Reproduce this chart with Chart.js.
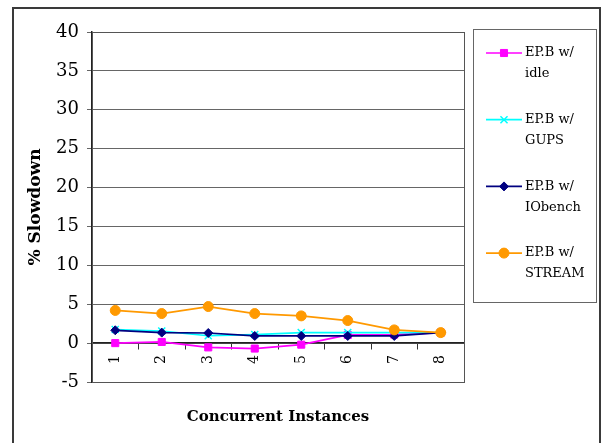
<!DOCTYPE html>
<html>
<head>
<meta charset="utf-8">
<script src="https://cdn.jsdelivr.net/npm/chart.js@4.4.1/dist/chart.umd.min.js"></script>
<style>
  html, body { margin: 0; padding: 0; background: #fff; }
  canvas { display: block; }
</style>
</head>
<body>
<canvas id="chart" width="604" height="443"></canvas>
<script>
// Concurrent instances on the x axis
const instances = ['1', '2', '3', '4', '5', '6', '7', '8'];

// % slowdown of EP.B when co-scheduled with each workload
const idleSlowdown    = [0.0, 0.15, -0.55, -0.7, -0.2, 1.05, 1.1, 1.35];
const gupsSlowdown    = [1.75, 1.55, 0.95, 1.1, 1.35, 1.35, 1.35, 1.35];
const iobenchSlowdown = [1.65, 1.35, 1.3, 0.92, 0.92, 0.92, 0.92, 1.35];
const streamSlowdown  = [4.2, 3.8, 4.7, 3.8, 3.5, 2.9, 1.7, 1.35];

// Legend text, two lines per series
const seriesLabels = [
  ['EP.B w/', 'idle'],
  ['EP.B w/', 'GUPS'],
  ['EP.B w/', 'IObench'],
  ['EP.B w/', 'STREAM']
];

// Y axis range
const yMin = -5;
const yMax = 40;
const yStep = 5;

const seriesData = [idleSlowdown, gupsSlowdown, iobenchSlowdown, streamSlowdown];
const seriesColors = ['#FF00FF', '#00FFFF', '#000080', '#FF9900'];
const seriesMarkers = ['rect', 'crossRot', 'rectRot', 'circle'];
const seriesRadius = [5, 5, 4.5, 5];

const SERIF = "'DejaVu Serif', 'Liberation Serif', serif";

const datasets = seriesData.map((values, i) => ({
  label: seriesLabels[i].join(' '),
  data: values,
  borderColor: seriesColors[i],
  backgroundColor: seriesColors[i],
  pointBackgroundColor: seriesColors[i],
  pointBorderColor: seriesColors[i],
  pointStyle: seriesMarkers[i],
  pointRadius: seriesRadius[i],
  pointBorderWidth: i === 1 ? 1.5 : 1,
  borderWidth: 1.7,
  tension: 0,
  fill: false,
  order: seriesData.length - i
}));

function markerAt(ctx, ds, x, y) {
  ctx.save();
  ctx.fillStyle = ds.pointBackgroundColor;
  ctx.strokeStyle = ds.pointBorderColor;
  ctx.lineWidth = ds.pointBorderWidth;
  if (Chart.helpers && Chart.helpers.drawPoint) {
    Chart.helpers.drawPoint(ctx, {
      pointStyle: ds.pointStyle, radius: ds.pointRadius,
      borderWidth: ds.pointBorderWidth, rotation: 0
    }, x, y);
  } else {
    ctx.beginPath();
    ctx.arc(x, y, ds.pointRadius, 0, Math.PI * 2);
    ctx.fill();
  }
  ctx.restore();
}

// Draws the plot frame, the outer border and the boxed legend
const framePlugin = {
  id: 'frameAndLegend',
  afterDraw(chart) {
    const ctx = chart.ctx;
    const a = chart.chartArea;
    ctx.save();

    // plot frame
    ctx.strokeStyle = '#555';
    ctx.lineWidth = 1;
    ctx.strokeRect(Math.round(a.left) + 0.5, Math.round(a.top) + 0.5,
                   Math.round(a.right - a.left), Math.round(a.bottom - a.top));

    // outer border
    ctx.strokeStyle = '#3a3a3a';
    ctx.lineWidth = 2;
    ctx.beginPath();
    ctx.moveTo(13, 460);
    ctx.lineTo(13, 8);
    ctx.lineTo(600, 8);
    ctx.lineTo(600, 460);
    ctx.stroke();

    // legend box
    ctx.strokeStyle = '#666';
    ctx.lineWidth = 1;
    ctx.strokeRect(473.5, 29.5, 123, 273);

    const ds = chart.data.datasets;
    ctx.font = "13px " + SERIF;
    ctx.textAlign = 'left';
    ctx.textBaseline = 'middle';
    seriesLabels.forEach((lines, i) => {
      const y = 53 + i * 66.7;
      ctx.strokeStyle = ds[i].borderColor;
      ctx.lineWidth = ds[i].borderWidth;
      ctx.beginPath();
      ctx.moveTo(486, y);
      ctx.lineTo(522, y);
      ctx.stroke();
      markerAt(ctx, ds[i], 504, y);
      ctx.fillStyle = '#000';
      ctx.fillText(lines[0], 525, y);
      ctx.fillText(lines[1], 525, y + 21);
    });
    ctx.restore();
  }
};

new Chart(document.getElementById('chart'), {
  type: 'line',
  data: { labels: instances, datasets },
  plugins: [framePlugin],
  options: {
    responsive: false,
    animation: false,
    devicePixelRatio: 1,
    layout: { padding: { left: 0, top: 32, right: 140, bottom: 13 } },
    plugins: {
      legend: { display: false },
      tooltip: { enabled: false },
      title: {
        display: true,
        position: 'bottom',
        fullSize: false,
        text: 'Concurrent Instances',
        color: '#000',
        font: { family: SERIF, size: 15, weight: 'bold' },
        padding: { top: 26, bottom: 4 }
      }
    },
    scales: {
      x: {
        type: 'category',
        position: { y: 0 },
        offset: true,
        grid: { offset: true, drawOnChartArea: false, drawTicks: true, tickLength: 6, color: '#333' },
        border: { color: '#222', width: 1.5 },
        ticks: {
          minRotation: 90, maxRotation: 90,
          color: '#000',
          font: { family: SERIF, size: 14 },
          padding: 6
        }
      },
      y: {
        min: yMin,
        max: yMax,
        ticks: {
          stepSize: yStep,
          color: '#000',
          font: { family: SERIF, size: 18 },
          padding: 8
        },
        grid: { color: '#666', tickLength: 5 },
        border: { color: '#222', width: 1.5 },
        title: {
          display: true,
          text: '% Slowdown',
          color: '#000',
          font: { family: SERIF, size: 17, weight: 'bold' },
          padding: { top: 25, bottom: 0 }
        },
        afterFit(scale) { scale.width = 92; }
      }
    }
  }
});
</script>
</body>
</html>
